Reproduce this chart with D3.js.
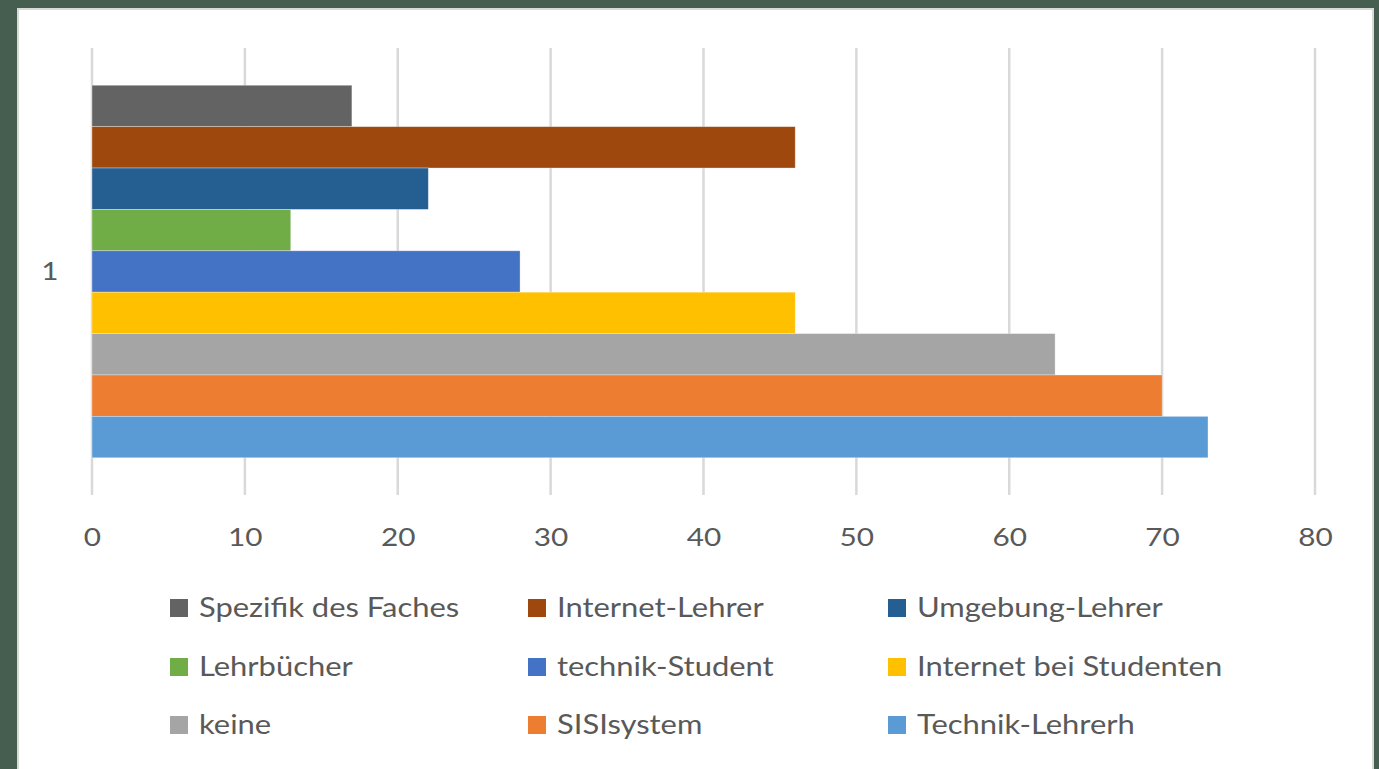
<!DOCTYPE html>
<html>
<head>
<meta charset="utf-8">
<script src="https://cdn.jsdelivr.net/npm/d3@7"></script>
<style>
  html, body { margin: 0; padding: 0; background: #455e4f; }
  svg { display: block; }
  text { font-family: Lato, "Open Sans", sans-serif; fill: #595959; }
</style>
</head>
<body>
<div id="chart"></div>
<script>
// data
const categories = ['1']
const seriesNames = ['Spezifik des Faches', 'Internet-Lehrer', 'Umgebung-Lehrer', 'Lehrbücher',
    'technik-Student', 'Internet bei Studenten', 'keine', 'SISIsystem', 'Technik-Lehrerh']
const seriesValues = [17, 46, 22, 13, 28, 46, 63, 70, 73]
const seriesColors = ['#636363', '#9e480e', '#255e91', '#70ad47', '#4472c4', '#ffc000', '#a5a5a5', '#ed7d31', '#5b9bd5']
const xTicks = [0, 10, 20, 30, 40, 50, 60, 70, 80]

const width = 1379
const height = 769
// the source picture is stretched sideways, so text is widened a bit
const stretch = 'scale(1.19, 1)'

const svg = d3.select('#chart')
    .append('svg')
    .attr('width', width)
    .attr('height', height)

// white chart panel with its light frame
svg.append('rect')
    .attr('x', 18)
    .attr('y', 9)
    .attr('width', 1355)
    .attr('height', 770)
    .attr('fill', '#ffffff')
    .attr('stroke', '#d9d9d9')
    .attr('stroke-width', 2)

const plot = { left: 92, right: 1315, top: 48, bottom: 495 }

const x = d3.scaleLinear()
    .domain([0, 80])
    .range([plot.left, plot.right])

const y0 = d3.scaleBand()
    .domain(categories)
    .range([plot.top, plot.bottom])
    .paddingOuter(0.1)

const y1 = d3.scaleBand()
    .domain(seriesNames)
    .range([0, y0.bandwidth()])

// gridlines
svg.append('g')
    .selectAll('line')
    .data(xTicks)
    .enter()
    .append('line')
    .attr('x1', d => x(d))
    .attr('x2', d => x(d))
    .attr('y1', plot.top)
    .attr('y2', plot.bottom)
    .attr('stroke', '#d9d9d9')
    .attr('stroke-width', 2.5)

// bars
svg.append('g')
    .selectAll('rect')
    .data(seriesNames)
    .enter()
    .append('rect')
    .attr('x', x(0))
    .attr('y', d => y0('1') + y1(d))
    .attr('width', (d, i) => x(seriesValues[i]) - x(0))
    .attr('height', y1.bandwidth())
    .attr('fill', (d, i) => seriesColors[i])
    .attr('stroke', '#ffffff')
    .attr('stroke-opacity', 0.4)
    .attr('stroke-width', 0.8)

// x axis labels
const xAxis = d3.axisBottom(x)
    .tickValues(xTicks)
    .tickSize(0)
    .tickPadding(0)

const gx = svg.append('g')
    .attr('transform', `translate(0, ${plot.bottom + 32})`)
    .call(xAxis)
gx.select('.domain').remove()
gx.selectAll('text')
    .attr('dy', '0.35em')
    .attr('y', 10)
    .attr('transform', stretch)
    .style('font-size', '25px')
    .style('fill', '#595959')
    .style('font-family', 'Lato, sans-serif')

// category label
svg.append('text')
    .attr('transform', `translate(50, ${y0('1') + y0.bandwidth() / 2}) ${stretch}`)
    .attr('dy', '0.35em')
    .attr('text-anchor', 'middle')
    .style('font-size', '25px')
    .text(categories[0])

// legend, three columns
const legendCols = [170, 528, 888]
const legendRows = [608, 667, 725]
const legend = svg.append('g')
    .selectAll('g')
    .data(seriesNames)
    .enter()
    .append('g')
    .attr('transform', (d, i) => `translate(${legendCols[i % 3]}, ${legendRows[Math.floor(i / 3)]})`)

legend.append('rect')
    .attr('x', 0)
    .attr('y', -9)
    .attr('width', 18)
    .attr('height', 18)
    .attr('fill', (d, i) => seriesColors[i])

legend.append('text')
    .attr('transform', `translate(29, 0) ${stretch}`)
    .attr('dy', '0.35em')
    .style('font-size', '26px')
    .text(d => d)
</script>
</body>
</html>
